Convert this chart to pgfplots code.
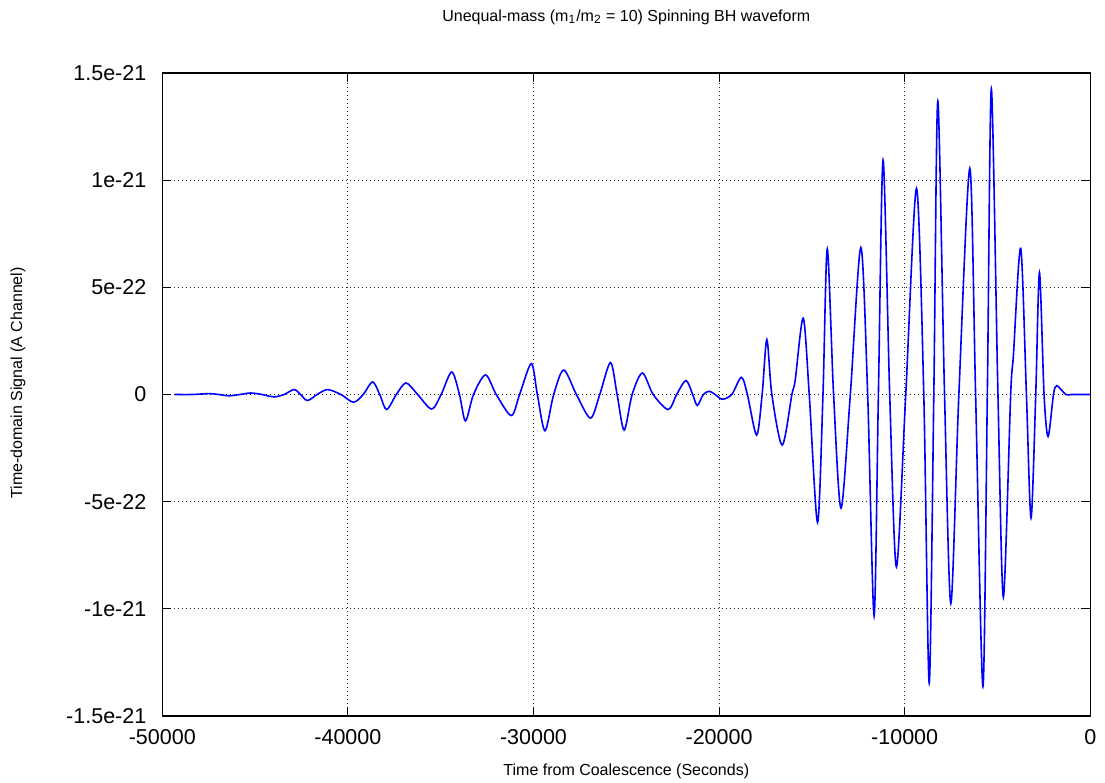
\documentclass[border=0pt]{standalone}
\usepackage{pgfplots}
\pgfplotsset{compat=1.18}
\usepackage{pgfplotstable}
\usepackage{fontspec}
\setmainfont{Liberation Sans}
\pgfplotstableread{
x y
-49325 0
-48400 0
-47489 0.04e-22
-46949 0
-46409 -0.06e-22
-45815 0
-45237 0.07e-22
-44627 0
-43979 -0.11e-22
-43439 0
-42899 0.23e-22
-42548 0
-42181 -0.28e-22
-41657 0
-41101 0.23e-22
-40377 0
-39697 -0.36e-22
-39173 0
-38671 0.59e-22
-38283 0
-37915 -0.70e-22
-37391 0
-36867 0.54e-22
-36241 0
-35485 -0.68e-22
-34977 0
-34405 1.05e-22
-33989 0
-33665 -1.23e-22
-33233 0
-32585 0.91e-22
-32007 0
-31197 -0.98e-22
-30749 0
-30117 1.44e-22
-29793 0
-29383 -1.69e-22
-28913 0
-28373 1.14e-22
-27687 0
-26931 -1.10e-22
-26429 0
-25851 1.49e-22
-25495 0
-25117 -1.66e-22
-24685 0
-24134 1.00e-22
-23551 0
-22741 -0.70e-22
-22287 0
-21785 0.65e-22
-21423 0
-21175 -0.51e-22
-20851 0
-20527 0.15e-22
-20219 0
-19825 -0.22e-22
-19317 0
-18799 0.80e-22
-18475 0
-17978 -1.89e-22
-17681 0
-17427 2.56e-22
-17157 0
-16601 -2.36e-22
-16077 0
-15899 0.67e-22
-15467 3.56e-22
-15143 0
-14695 -5.97e-22
-14403 0
-14171 6.79e-22
-13831 0
-13431 -5.30e-22
-12929 0
-12362 6.86e-22
-11995 0
-11649 -10.33e-22
-11417 0
-11163 10.94e-22
-10807 0
-10445 -8.04e-22
-9943 0
-9365 9.61e-22
-8971 0
-8679 -13.47e-22
-8431 0
-8215 13.69e-22
-7853 0
-7513 -9.75e-22
-7081 0
-6492 10.55e-22
-6179 0
-5785 -13.63e-22
-5547 0
-5331 14.27e-22
-4975 0
-4683 -9.45e-22
-4289 0
-4143 1.82e-22
-3749 6.82e-22
-3441 0
-3193 -5.76e-22
-2939 0
-2739 5.69e-22
-2491 0
-2275 -1.96e-22
-1983 0
-1805 0.41e-22
-1319 0
-1000 0
0 0
}\wavedata
\begin{document}
\begin{tikzpicture}
\begin{axis}[
  scale only axis,
  width=464pt, height=321.5pt,
  xmin=-50000, xmax=0, ymin=-1.5e-21, ymax=1.5e-21,
  scaled x ticks=false, scaled y ticks=false,
  xtick={-50000,-40000,-30000,-20000,-10000,0},
  xticklabels={-50000,-40000,-30000,-20000,-10000,0},
  ytick={-1.5e-21,-1e-21,-5e-22,0,5e-22,1e-21,1.5e-21},
  yticklabels={-1.5e-21,-1e-21,-5e-22,0,5e-22,1e-21,1.5e-21},
  tick label style={font=\fontsize{10.75}{12}\selectfont},
  xticklabel style={anchor=base, yshift=-14pt},
  yticklabel style={anchor=east, inner sep=0pt, xshift=-7.8pt},
  tick align=inside, major tick length=4.5pt,
  tick style={black, line width=0.5pt},
  axis line style={black, line width=0.6pt},
  grid=major,
  major grid style={black!85, line width=0.5pt, dash pattern=on 0.5pt off 1.5pt},
  title={Unequal-mass (m\textsubscript{1}/m\textsubscript{2} = 10) Spinning BH waveform},
  title style={at={(axis description cs:0.5,1)}, anchor=base, yshift=20pt, font=\fontsize{8}{9.6}\selectfont},
  xlabel={Time from Coalescence (Seconds)},
  xlabel style={at={(axis description cs:0.5,0)}, anchor=base, yshift=-29.5pt, font=\fontsize{8}{9.6}\selectfont},
  ylabel={Time-domain Signal (A Channel)},
  ylabel style={at={(axis description cs:-0.1555,0.518)}, anchor=center, font=\fontsize{8}{9.6}\selectfont},
]
\addplot[color={rgb,255:red,0;green,0;blue,255}, line width=0.8pt, smooth, no marks] table[x=x,y=y] {\wavedata};
\end{axis}
\pgfresetboundingbox
\path[use as bounding box] (-81.15pt,-33.5pt) rectangle (471.35pt,358pt);
\end{tikzpicture}
\end{document}
